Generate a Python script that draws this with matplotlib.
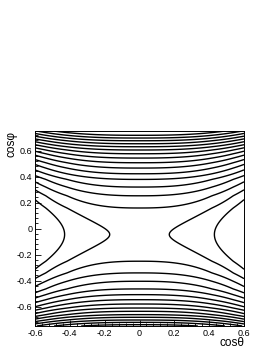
import numpy as np
import matplotlib
matplotlib.use("Agg")
import matplotlib.pyplot as plt
from matplotlib.ticker import MultipleLocator, FuncFormatter

plt.rcParams['font.family'] = ['Liberation Sans', 'DejaVu Sans']
plt.rcParams['axes.unicode_minus'] = False

# contour crossings read along cos(theta) = 0
top_phi = [0.158, 0.252, 0.319, 0.378, 0.421, 0.465, 0.506, 0.542,
           0.575, 0.604, 0.629, 0.652, 0.675, 0.696, 0.717]
bottom_phi = [-0.252, -0.342, -0.406, -0.465, -0.509, -0.548, -0.581,
              -0.612, -0.637, -0.663, -0.683, -0.704, -0.722]
saddle_phi = -0.046
# the two side contours, where they cross the saddle row
apex_theta = [0.171, 0.430]
theta_power = 2.7   # how fast the field falls off along cos(theta)

x_ticks = [-0.6, -0.4, -0.2, 0, 0.2, 0.4, 0.6]
y_ticks = [-0.6, -0.4, -0.2, 0, 0.2, 0.4, 0.6]
x_lim = (-0.6, 0.6)
y_lim = (-0.75, 0.75)


def build_field(nx=241, ny=301):
    """Saddle shaped field whose level lines pass through the read crossings."""
    p = theta_power
    c = 1.0 / (apex_theta[1] ** p - apex_theta[0] ** p)
    g0 = -1.0 + c * apex_theta[0] ** p

    top = list(top_phi)
    bot = list(bottom_phi)
    top_lv = list(range(len(top)))
    bot_lv = list(range(len(bot)))
    # carry the last spacing on past the frame
    step_t = top[-1] - top[-2]
    top_lv.append(top_lv[-1] + (y_lim[1] + 0.1 - top[-1]) / step_t)
    top.append(y_lim[1] + 0.1)
    step_b = bot[-2] - bot[-1]
    bot_lv.append(bot_lv[-1] + (bot[-1] - (y_lim[0] - 0.1)) / step_b)
    bot.append(y_lim[0] - 0.1)

    y_nodes = bot[::-1] + [saddle_phi] + top
    z_nodes = bot_lv[::-1] + [g0] + top_lv

    x = np.linspace(x_lim[0], x_lim[1], nx)
    y = np.linspace(y_lim[0], y_lim[1], ny)
    X, Y = np.meshgrid(x, y)
    G = np.interp(Y, y_nodes, z_nodes)
    # round the valley between the first upper and lower lines
    up = (Y >= saddle_phi) & (Y < top[0])
    G[up] = g0 - g0 * ((Y[up] - saddle_phi) / (top[0] - saddle_phi)) ** 2
    dn = (Y < saddle_phi) & (Y > bot[0])
    G[dn] = g0 - g0 * ((saddle_phi - Y[dn]) / (saddle_phi - bot[0])) ** 2
    Z = G - c * np.abs(X) ** p
    return X, Y, Z


X, Y, Z = build_field()
levels = np.arange(-2, len(top_phi))

fig = plt.figure(figsize=(2.72, 3.52), dpi=100)
ax = fig.add_axes([35 / 272, 1 - 326 / 352, 209 / 272, 195 / 352])
ax.contour(X, Y, Z, levels=levels, colors='k', linewidths=1.0,
           linestyles='solid')

ax.set_xlim(*x_lim)
ax.set_ylim(*y_lim)
ax.set_xticks(x_ticks)
ax.set_yticks(y_ticks)
ax.xaxis.set_minor_locator(MultipleLocator(0.04))
ax.yaxis.set_minor_locator(MultipleLocator(0.04))
fmt = FuncFormatter(lambda v, p: "0" if abs(v) < 1e-9 else "%.1f" % v)
ax.xaxis.set_major_formatter(fmt)
ax.yaxis.set_major_formatter(fmt)
ax.tick_params(which='both', direction='in', top=False, right=False,
               labelsize=6.5, width=0.6, colors='k')
ax.tick_params(which='major', length=4, pad=2)
ax.tick_params(which='minor', length=2)
for s in ax.spines.values():
    s.set_linewidth(0.7)

fig.text(244 / 272, 1 - 343 / 352, 'cosθ', ha='right', va='center', fontsize=8.5)
fig.text(12 / 272, 1 - 131 / 352, 'cosφ', ha='center', va='top',
         rotation=90, fontsize=8.5)

fig.savefig("out.png", dpi=100)
